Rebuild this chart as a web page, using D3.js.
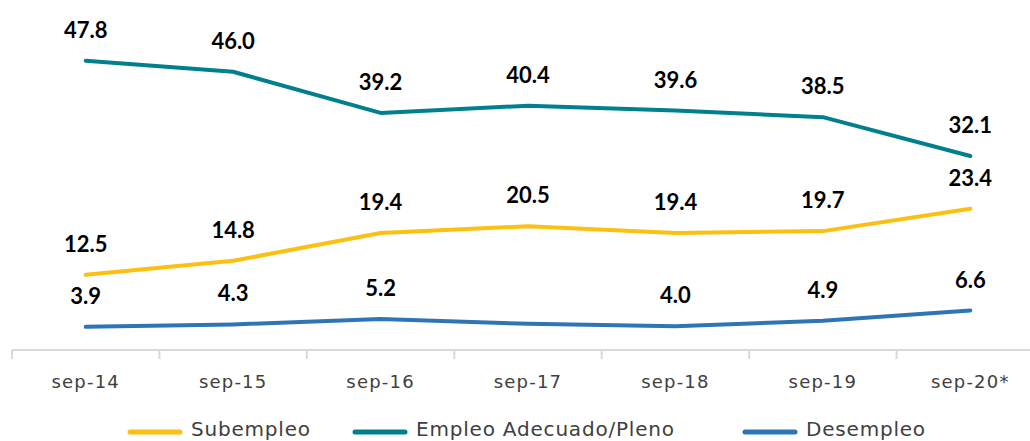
<!DOCTYPE html>
<html>
<head>
<meta charset="utf-8">
<script src="https://cdn.jsdelivr.net/npm/d3@7"></script>
<style>
  body { margin: 0; background: #fff; }
  svg { display: block; }
</style>
</head>
<body>
<script>
(function () {
    var categories = ['sep-14', 'sep-15', 'sep-16', 'sep-17', 'sep-18', 'sep-19', 'sep-20*'];
    var subempleo = [12.5, 14.8, 19.4, 20.5, 19.4, 19.7, 23.4];
    var empleoPleno = [47.8, 46.0, 39.2, 40.4, 39.6, 38.5, 32.1];
    var desempleo = [3.9, 4.3, 5.2, 4.4, 4.0, 4.9, 6.6];
    // the sep-17 unemployment point carries no label in the original
    var desempleoLabels = [true, true, true, false, true, true, true];

    var width = 1030,
        height = 441;

    var svg = d3.select('body').append('svg')
        .attr('width', width)
        .attr('height', height);

    var x = d3.scaleBand()
        .domain(categories)
        .range([12, 1044]);

    var y = d3.scaleLinear()
        .domain([0, 50])
        .range([350.5, 47.5]);

    var series = [
        { name: 'Subempleo', values: subempleo, color: '#FBC011', labels: null },
        { name: 'Empleo Adecuado/Pleno', values: empleoPleno, color: '#00808E', labels: null },
        { name: 'Desempleo', values: desempleo, color: '#2E75B6', labels: desempleoLabels }
    ];

    // x axis
    var axis = svg.append('g')
        .attr('transform', 'translate(0,350)')
        .call(d3.axisBottom(x).tickSize(0).tickPadding(25));

    axis.select('.domain')
        .attr('d', 'M12,0H1044')
        .attr('stroke', '#d9d9d9')
        .attr('stroke-width', 2);

    axis.selectAll('.tick text')
        .attr('fill', '#404040')
        .attr('font-family', 'DejaVu Sans')
        .attr('font-size', 18)
        .attr('letter-spacing', 1.2);

    axis.selectAll('.sep')
        .data(categories)
        .enter().append('line')
        .attr('class', 'sep')
        .attr('x1', function (d) { return x(d); })
        .attr('x2', function (d) { return x(d); })
        .attr('y1', 0)
        .attr('y2', 9)
        .attr('stroke', '#d9d9d9')
        .attr('stroke-width', 2);

    var line = d3.line()
        .x(function (d, i) { return x(categories[i]) + x.bandwidth() / 2; })
        .y(function (d) { return y(d); });

    series.forEach(function (s) {
        svg.append('path')
            .datum(s.values)
            .attr('d', line)
            .attr('fill', 'none')
            .attr('stroke', s.color)
            .attr('stroke-width', 4)
            .attr('stroke-linecap', 'round')
            .attr('stroke-linejoin', 'round');

        var pts = s.values.map(function (d, i) { return { v: d, i: i }; })
            .filter(function (d) { return !s.labels || s.labels[d.i]; });

        svg.selectAll(null)
            .data(pts)
            .enter().append('text')
            .attr('x', function (d) { return x(categories[d.i]) + x.bandwidth() / 2; })
            .attr('y', function (d) { return y(d.v) - 23; })
            .attr('text-anchor', 'middle')
            .attr('font-family', 'Lato')
            .attr('font-weight', 'bold')
            .attr('font-size', 22)
            .attr('fill', '#000')
            .text(function (d) { return d.v.toFixed(1); });
    });

    // legend
    var legendX = [130, 355, 745];
    var legend = svg.selectAll('.legend')
        .data(series)
        .enter().append('g')
        .attr('class', 'legend')
        .attr('transform', function (d, i) { return 'translate(' + legendX[i] + ',432)'; });

    legend.append('line')
        .attr('x1', 0)
        .attr('x2', 50)
        .attr('stroke', function (d) { return d.color; })
        .attr('stroke-width', 5)
        .attr('stroke-linecap', 'round');

    legend.append('text')
        .attr('x', 61)
        .attr('y', -3)
        .attr('dy', '0.36em')
        .attr('fill', '#404040')
        .attr('font-family', 'DejaVu Sans')
        .attr('font-size', 20)
        .attr('letter-spacing', 0.8)
        .text(function (d) { return d.name; });
}());
</script>
</body>
</html>
